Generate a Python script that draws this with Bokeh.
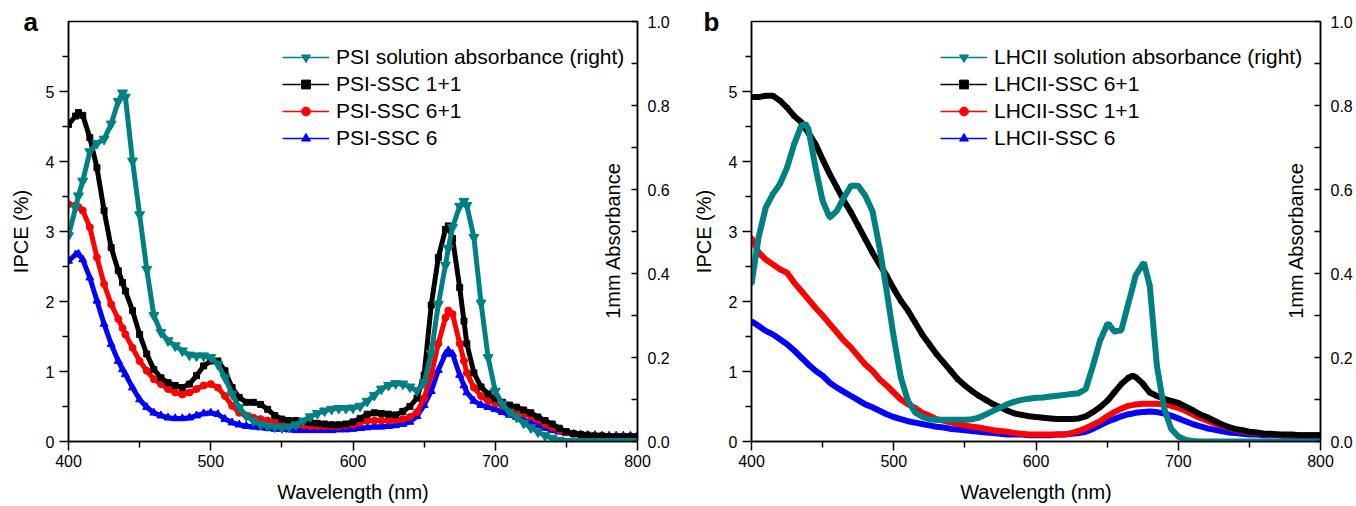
import math
from bokeh.plotting import figure
from bokeh.models import (Range1d, LinearAxis, FixedTicker, Legend, LegendItem,
                          Label, Title, PrintfTickFormatter)
from bokeh.layouts import row
from bokeh.embed import file_html
from bokeh.resources import INLINE

# ---------------- data ----------------
WL_A = [400, 405, 407, 410, 415, 420, 425, 430, 435, 438,
        440, 445, 450, 455, 460, 465, 470, 475, 480, 485,
        490, 495, 500, 505, 510, 515, 520, 525, 530, 535,
        540, 545, 550, 555, 560, 565, 570, 575, 580, 585,
        590, 595, 600, 605, 610, 615, 620, 625, 630, 635,
        640, 645, 650, 655, 660, 665, 667, 670, 675, 678,
        680, 685, 690, 695, 700, 705, 710, 715, 720, 725,
        730, 735, 740, 745, 750, 755, 760, 765, 770, 775,
        780, 785, 790, 795, 800]

PSI_ABS = [0.490, 0.557, 0.585, 0.620, 0.690, 0.710, 0.720, 0.756, 0.810, 0.830,
           0.820, 0.668, 0.540, 0.410, 0.300, 0.260, 0.240, 0.228, 0.216, 0.206,
           0.204, 0.204, 0.200, 0.184, 0.152, 0.113, 0.081, 0.061, 0.049, 0.041,
           0.037, 0.035, 0.033, 0.035, 0.040, 0.049, 0.059, 0.067, 0.073, 0.077,
           0.079, 0.079, 0.080, 0.084, 0.096, 0.110, 0.125, 0.134, 0.138, 0.137,
           0.130, 0.121, 0.140, 0.210, 0.327, 0.420, 0.460, 0.510, 0.560, 0.572,
           0.562, 0.486, 0.330, 0.200, 0.120, 0.089, 0.070, 0.058, 0.044, 0.033,
           0.023, 0.014, 0.008, 0.003, 0.000, 0.000, 0.000, 0.000, 0.000, 0.000,
           0.000, 0.000, 0.000, 0.000, 0.000]

PSI_SSC_1_1 = [4.53, 4.65, 4.70, 4.66, 4.34, 3.91, 3.30, 2.77, 2.44, 2.27,
               2.15, 1.87, 1.53, 1.25, 1.03, 0.91, 0.84, 0.80, 0.77, 0.82,
               0.94, 1.08, 1.15, 1.15, 1.01, 0.77, 0.63, 0.56, 0.56, 0.53,
               0.46, 0.37, 0.32, 0.30, 0.30, 0.28, 0.27, 0.26, 0.25, 0.24,
               0.24, 0.25, 0.28, 0.33, 0.39, 0.41, 0.40, 0.39, 0.38, 0.43,
               0.50, 0.62, 0.95, 1.95, 2.63, 3.03, 3.08, 2.90, 2.20, 1.72,
               1.40, 0.98, 0.78, 0.68, 0.61, 0.56, 0.52, 0.49, 0.45, 0.41,
               0.35, 0.30, 0.25, 0.19, 0.14, 0.11, 0.10, 0.09, 0.08, 0.08,
               0.07, 0.07, 0.07, 0.07, 0.07]

PSI_SSC_6_1 = [3.39, 3.37, 3.35, 3.30, 3.06, 2.63, 2.25, 1.96, 1.75, 1.62,
               1.53, 1.34, 1.15, 1.01, 0.89, 0.82, 0.75, 0.70, 0.67, 0.70,
               0.75, 0.80, 0.82, 0.77, 0.65, 0.51, 0.41, 0.37, 0.34, 0.32,
               0.30, 0.27, 0.25, 0.24, 0.24, 0.23, 0.22, 0.22, 0.22, 0.22,
               0.22, 0.23, 0.24, 0.27, 0.30, 0.30, 0.30, 0.30, 0.31, 0.32,
               0.35, 0.42, 0.62, 0.95, 1.40, 1.77, 1.87, 1.82, 1.40, 1.15,
               0.98, 0.77, 0.65, 0.58, 0.55, 0.51, 0.48, 0.44, 0.40, 0.36,
               0.31, 0.25, 0.20, 0.16, 0.13, 0.11, 0.10, 0.09, 0.08, 0.08,
               0.07, 0.07, 0.07, 0.07, 0.07]

PSI_SSC_6 = [2.58, 2.67, 2.68, 2.60, 2.34, 2.01, 1.68, 1.39, 1.15, 1.03,
             0.96, 0.77, 0.60, 0.49, 0.41, 0.37, 0.34, 0.33, 0.33, 0.34,
             0.37, 0.40, 0.41, 0.39, 0.32, 0.27, 0.24, 0.22, 0.21, 0.20,
             0.19, 0.18, 0.18, 0.17, 0.16, 0.16, 0.16, 0.16, 0.16, 0.16,
             0.17, 0.17, 0.18, 0.19, 0.20, 0.21, 0.21, 0.22, 0.23, 0.25,
             0.28, 0.36, 0.52, 0.72, 1.02, 1.25, 1.30, 1.25, 0.95, 0.80,
             0.70, 0.58, 0.52, 0.49, 0.46, 0.42, 0.38, 0.35, 0.31, 0.27,
             0.23, 0.19, 0.16, 0.14, 0.12, 0.11, 0.10, 0.09, 0.09, 0.08,
             0.08, 0.08, 0.08, 0.08, 0.08]

WL_B = [400, 405, 410, 415, 420, 425, 430, 435, 438, 440,
        445, 450, 455, 460, 465, 470, 475, 480, 485, 490,
        495, 500, 505, 510, 515, 520, 525, 530, 535, 540,
        545, 550, 555, 560, 565, 570, 575, 580, 585, 590,
        595, 600, 605, 610, 615, 620, 625, 630, 635, 640,
        645, 650, 651, 655, 660, 665, 668, 670, 675, 676,
        680, 685, 690, 695, 700, 705, 710, 715, 720, 725,
        730, 735, 740, 745, 750, 755, 760, 765, 770, 775,
        780, 785, 790, 795, 800]

LHCII_ABS = [0.375, 0.486, 0.557, 0.589, 0.613, 0.652, 0.708, 0.752, 0.756, 0.744,
             0.652, 0.573, 0.533, 0.549, 0.581, 0.609, 0.609, 0.585, 0.549, 0.462,
             0.359, 0.248, 0.152, 0.097, 0.069, 0.059, 0.053, 0.052, 0.052, 0.052,
             0.052, 0.052, 0.053, 0.057, 0.065, 0.073, 0.081, 0.089, 0.095, 0.099,
             0.102, 0.104, 0.105, 0.107, 0.109, 0.111, 0.113, 0.115, 0.125, 0.180,
             0.240, 0.278, 0.280, 0.262, 0.265, 0.330, 0.368, 0.395, 0.422, 0.424,
             0.370, 0.180, 0.080, 0.030, 0.012, 0.004, 0.001, 0.000, 0.000, 0.000,
             0.000, 0.000, 0.000, 0.000, 0.000, 0.000, 0.000, 0.000, 0.000, 0.000,
             0.000, 0.000, 0.000, 0.000, 0.000]

LHCII_SSC_6_1 = [4.92, 4.92, 4.94, 4.94, 4.87, 4.77, 4.65, 4.56, 4.47, 4.41,
                 4.25, 4.03, 3.82, 3.63, 3.44, 3.27, 3.08, 2.89, 2.70, 2.53,
                 2.37, 2.18, 2.01, 1.87, 1.70, 1.53, 1.39, 1.25, 1.13, 1.01,
                 0.89, 0.80, 0.72, 0.65, 0.59, 0.53, 0.49, 0.44, 0.40, 0.38,
                 0.36, 0.35, 0.34, 0.33, 0.32, 0.32, 0.32, 0.33, 0.36, 0.42,
                 0.49, 0.58, 0.60, 0.70, 0.82, 0.91, 0.94, 0.92, 0.83, 0.80,
                 0.70, 0.65, 0.61, 0.58, 0.55, 0.50, 0.45, 0.39, 0.35, 0.30,
                 0.25, 0.21, 0.18, 0.16, 0.14, 0.13, 0.11, 0.11, 0.10, 0.10,
                 0.10, 0.09, 0.09, 0.09, 0.09]

LHCII_SSC_1_1 = [2.91, 2.70, 2.60, 2.53, 2.46, 2.41, 2.27, 2.15, 2.08, 2.03,
                 1.91, 1.80, 1.68, 1.56, 1.44, 1.34, 1.22, 1.10, 1.01, 0.89,
                 0.80, 0.70, 0.60, 0.53, 0.48, 0.41, 0.37, 0.32, 0.30, 0.27,
                 0.25, 0.23, 0.21, 0.20, 0.18, 0.16, 0.15, 0.14, 0.12, 0.11,
                 0.10, 0.10, 0.10, 0.10, 0.10, 0.10, 0.12, 0.15, 0.19, 0.24,
                 0.29, 0.36, 0.37, 0.42, 0.47, 0.51, 0.52, 0.53, 0.54, 0.54,
                 0.54, 0.54, 0.53, 0.51, 0.48, 0.44, 0.39, 0.34, 0.30, 0.26,
                 0.23, 0.20, 0.17, 0.15, 0.13, 0.12, 0.11, 0.10, 0.10, 0.09,
                 0.09, 0.09, 0.09, 0.09, 0.09]

LHCII_SSC_6 = [1.72, 1.65, 1.58, 1.53, 1.46, 1.39, 1.30, 1.20, 1.14, 1.10,
               1.01, 0.94, 0.84, 0.77, 0.71, 0.65, 0.59, 0.53, 0.49, 0.44,
               0.39, 0.35, 0.32, 0.29, 0.27, 0.25, 0.23, 0.21, 0.20, 0.18,
               0.17, 0.16, 0.15, 0.14, 0.13, 0.12, 0.11, 0.10, 0.10, 0.10,
               0.09, 0.09, 0.09, 0.09, 0.10, 0.10, 0.11, 0.12, 0.14, 0.18,
               0.23, 0.28, 0.29, 0.32, 0.36, 0.39, 0.40, 0.41, 0.42, 0.42,
               0.43, 0.42, 0.40, 0.37, 0.33, 0.29, 0.25, 0.22, 0.19, 0.17,
               0.15, 0.13, 0.12, 0.11, 0.10, 0.10, 0.09, 0.09, 0.09, 0.08,
               0.08, 0.08, 0.08, 0.08, 0.08]

X_TICKS = [400, 500, 600, 700, 800]
X_MINOR = [450, 550, 650, 750]
IPCE_TICKS = [0, 1, 2, 3, 4, 5]
IPCE_MINOR = [0.5, 1.5, 2.5, 3.5, 4.5, 5.5]
ABS_TICKS = [0.0, 0.2, 0.4, 0.6, 0.8, 1.0]
ABS_MINOR = [0.1, 0.3, 0.5, 0.7, 0.9]

TEAL = "#008080"
FONT = "Liberation Sans"
NAN = float("nan")


def style_axis(ax):
    ax.axis_line_color = "black"
    ax.axis_line_width = 1.5
    ax.major_tick_line_color = "black"
    ax.minor_tick_line_color = "black"
    ax.major_tick_line_width = 1.5
    ax.minor_tick_line_width = 1.5
    ax.major_label_text_font = FONT
    ax.major_label_text_font_size = "16px"
    ax.major_label_text_color = "black"
    ax.axis_label_text_font = FONT
    ax.axis_label_text_font_size = "20px"
    ax.axis_label_text_font_style = "normal"
    ax.axis_label_text_color = "black"


def panel(width, left, right, wl, absv, curves, abs_label, letter, letter_off,
          letter_standoff, legend_x, line_w, big):
    p = figure(width=width, height=506, output_backend="svg", toolbar_location=None,
               x_range=Range1d(400, 800), y_range=Range1d(0, 6),
               min_border_left=left, min_border_right=right,
               min_border_top=21, min_border_bottom=65)
    p.extra_y_ranges = {"abs": Range1d(0, 1)}
    p.xgrid.visible = False
    p.ygrid.visible = False
    p.outline_line_color = "black"
    p.outline_line_width = 1.5
    p.background_fill_color = "white"
    p.border_fill_color = "white"

    xa = p.xaxis[0]
    style_axis(xa)
    xa.ticker = FixedTicker(ticks=X_TICKS, minor_ticks=X_MINOR)
    xa.axis_label = "Wavelength (nm)"
    xa.major_tick_out = 9
    xa.major_tick_in = 0
    xa.minor_tick_out = 6
    xa.minor_tick_in = 0
    xa.major_label_standoff = 4
    xa.axis_label_standoff = 11

    ya = p.yaxis[0]
    style_axis(ya)
    ya.ticker = FixedTicker(ticks=IPCE_TICKS, minor_ticks=IPCE_MINOR)
    ya.axis_label = "IPCE (%)"
    ya.major_tick_out = 9
    ya.major_tick_in = 0
    ya.minor_tick_out = 6
    ya.minor_tick_in = 0
    ya.major_label_standoff = 5
    ya.axis_label_standoff = 11

    ra = LinearAxis(y_range_name="abs")
    style_axis(ra)
    ra.ticker = FixedTicker(ticks=ABS_TICKS, minor_ticks=ABS_MINOR)
    ra.formatter = PrintfTickFormatter(format="%.1f")
    ra.major_tick_out = 0
    ra.major_tick_in = 6
    ra.minor_tick_out = 0
    ra.minor_tick_in = 6
    ra.major_label_standoff = 10
    p.add_layout(ra, "right")

    # data renderers (bottom to top: blue, red, black, teal)
    for label, color, marker, vals, msize in reversed(curves):
        p.line(wl, vals, color=color, line_width=line_w)
        p.scatter(wl, vals, marker=marker, size=msize, color=color)
    p.line(wl, absv, color=TEAL, line_width=line_w, y_range_name="abs")
    p.scatter(wl, absv, marker="inverted_triangle", size=(10 if big else 5),
              color=TEAL, y_range_name="abs")

    # legend-only glyphs (thin line with a marker), they draw nothing in the frame
    items = []
    leg = [(abs_label, TEAL, "inverted_triangle", 9 if big else 6)] + \
          [(c[0], c[1], c[2], 7 if big else 5) for c in curves]
    for label, color, marker, ms in leg:
        l = p.line(x=[NAN], y=[NAN], color=color, line_width=1.5)
        s = p.scatter(x=[NAN], y=[NAN], marker=marker, size=ms, color=color)
        items.append(LegendItem(label=label, renderers=[l, s]))

    legend = Legend(items=items, location=(legend_x, 291),
                    glyph_width=47, glyph_height=22, label_height=22,
                    label_standoff=7, spacing=3, padding=0, margin=0,
                    border_line_color=None, background_fill_alpha=0,
                    label_text_font=FONT, label_text_font_size="21px",
                    label_text_color="black")
    p.add_layout(legend)

    p.add_layout(Title(text=letter, align="left", offset=letter_off,
                       standoff=letter_standoff, text_font=FONT,
                       text_font_size="26px", text_font_style="bold",
                       text_color="black"), "above")
    p.add_layout(Label(x=544, y=201, x_units="screen", y_units="screen",
                       text="1mm Absorbance", angle=math.pi / 2,
                       text_font=FONT, text_font_size="20px",
                       text_align="center", text_baseline="middle",
                       text_color="black"))
    return p


curves_a = [
    ("PSI-SSC 1+1", "black", "square", PSI_SSC_1_1, 6),
    ("PSI-SSC 6+1", "red", "circle", PSI_SSC_6_1, 7),
    ("PSI-SSC 6", "blue", "triangle", PSI_SSC_6, 8),
]
curves_b = [
    ("LHCII-SSC 6+1", "black", "square", LHCII_SSC_6_1, 4),
    ("LHCII-SSC 1+1", "red", "circle", LHCII_SSC_1_1, 4),
    ("LHCII-SSC 6", "blue", "triangle", LHCII_SSC_6, 4),
]

pa = panel(678, 68, 41, WL_A, PSI_ABS, curves_a, "PSI solution absorbance (right)",
           "a", -45, -31, 214, 5, True)
pb = panel(678, 73, 36, WL_B, LHCII_ABS, curves_b, "LHCII solution absorbance (right)",
           "b", -48, -31, 189, 6, False)

layout = row(pa, pb)
open("out.html", "w").write(file_html(layout, INLINE))
